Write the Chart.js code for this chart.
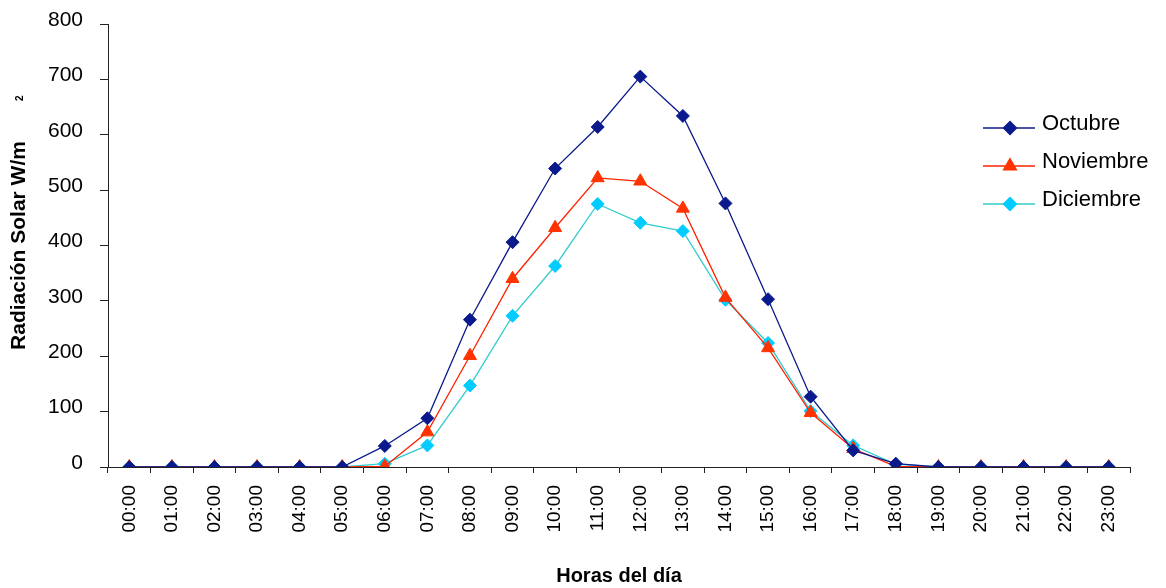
<!DOCTYPE html>
<html>
<head>
<meta charset="utf-8">
<script src="https://cdn.jsdelivr.net/npm/chart.js@4/dist/chart.umd.min.js"></script>
<style>
  html, body { margin: 0; padding: 0; background: #fff; }
  #chart { display: block; }
</style>
</head>
<body>
<canvas id="chart" width="1166" height="588"></canvas>
<script>
// Data
const hours = ["00:00","01:00","02:00","03:00","04:00","05:00","06:00","07:00",
  "08:00","09:00","10:00","11:00","12:00","13:00","14:00","15:00",
  "16:00","17:00","18:00","19:00","20:00","21:00","22:00","23:00"];
const octubre   = [0, 0, 0, 0, 0, 0, 38, 88, 266, 406, 539, 614, 705, 634, 476, 303, 127, 30, 6, 0, 0, 0, 0, 0];
const noviembre = [0, 0, 0, 0, 0, 0, 1, 63, 201, 340, 432, 522, 516, 467, 306, 215, 98, 33, 1, 0, 0, 0, 0, 0];
const diciembre = [0, 0, 0, 0, 0, 0, 6, 39, 147, 273, 363, 475, 441, 426, 302, 224, 101, 39, 5, 0, 0, 0, 0, 0];

const yTitleMain = "Radiación Solar W/m";
const yTitleSup = "2";
const xTitle = "Horas del día";

const FONT = "'Liberation Sans', Arial, sans-serif";
Chart.defaults.font.family = FONT;
Chart.defaults.color = "#000";

const series = [
  { label: "Octubre",   data: octubre,   line: "#0A1A8C", fill: "#0A1A8C", style: "rectRot",  r: 6.5 },
  { label: "Noviembre", data: noviembre, line: "#FF2200", fill: "#FF3300", style: "triangle", r: 7.5 },
  { label: "Diciembre", data: diciembre, line: "#33CCCC", fill: "#00CCFF", style: "rectRot",  r: 6.5 }
];

// Legend drawn on the canvas, Excel style (line with marker in the middle)
const excelLegend = {
  id: "excelLegend",
  afterDatasetsDraw(chart) {
    const ctx = chart.ctx;
    const rows = [124, 162, 200];
    ctx.save();
    series.forEach((s, i) => {
      const y = rows[i];
      ctx.strokeStyle = s.line;
      ctx.lineWidth = 1.3;
      ctx.beginPath();
      ctx.moveTo(983, y + 4);
      ctx.lineTo(1035, y + 4);
      ctx.stroke();
      ctx.fillStyle = s.fill;
      ctx.strokeStyle = s.fill;
      Chart.helpers.drawPoint(ctx, { pointStyle: s.style, radius: s.r, borderWidth: 1 }, 1010, y + 4);
      ctx.fillStyle = "#000";
      ctx.font = "22px " + FONT;
      ctx.textBaseline = "middle";
      ctx.textAlign = "left";
      ctx.fillText(s.label, 1042, y);
    });
    ctx.restore();
  }
};

// Y axis title with the separated superscript, as in the reference
const yTitle = {
  id: "yTitle",
  afterDraw(chart) {
    const ctx = chart.ctx;
    const a = chart.chartArea;
    ctx.save();
    ctx.translate(19, (a.top + a.bottom) / 2);
    ctx.rotate(-Math.PI / 2);
    ctx.font = "bold 21px " + FONT;
    ctx.textAlign = "center";
    ctx.textBaseline = "middle";
    ctx.fillText(yTitleMain, 0, 0);
    const w = ctx.measureText(yTitleMain).width;
    ctx.font = "bold 10px " + FONT;
    ctx.textAlign = "left";
    ctx.fillText(yTitleSup, w / 2 + 40, 1);
    ctx.restore();
  }
};

new Chart(document.getElementById("chart"), {
  type: "line",
  data: {
    labels: hours,
    datasets: series.map(s => ({
      label: s.label,
      data: s.data,
      borderColor: s.line,
      borderWidth: 1.3,
      backgroundColor: s.fill,
      pointStyle: s.style,
      pointRadius: s.r,
      pointBorderColor: s.fill,
      pointBackgroundColor: s.fill,
      pointBorderWidth: 1,
      tension: 0,
      fill: false
    }))
  },
  options: {
    responsive: false,
    animation: false,
    layout: { padding: { top: 24, right: 36, left: 0, bottom: 0 } },
    plugins: {
      legend: { display: false },
      tooltip: { enabled: false }
    },
    scales: {
      x: {
        offset: true,
        grid: { offset: true, drawOnChartArea: false, drawTicks: true, tickLength: 6, color: "#222" },
        border: { display: true, color: "#222", width: 1 },
        ticks: { minRotation: 90, maxRotation: 90, autoSkip: false, padding: 12, font: { size: 19 } },
        title: { display: true, text: xTitle, font: { size: 20, weight: "bold" }, padding: { top: 0, bottom: 0 } },
        afterFit(scale) {
          scale.height = 121;
          scale.paddingLeft = 0;
          scale.paddingRight = 0;
        }
      },
      y: {
        min: 0,
        max: 800,
        grid: { drawOnChartArea: false, drawTicks: true, tickLength: 8, color: "#222" },
        border: { display: true, color: "#222", width: 1 },
        ticks: { stepSize: 100, padding: 17, labelOffset: -4, font: { size: 21 } },
        afterFit(scale) {
          scale.width = 108;
          scale.paddingTop = 0;
          scale.paddingBottom = 0;
        }
      }
    }
  },
  plugins: [excelLegend, yTitle]
});
</script>
</body>
</html>
